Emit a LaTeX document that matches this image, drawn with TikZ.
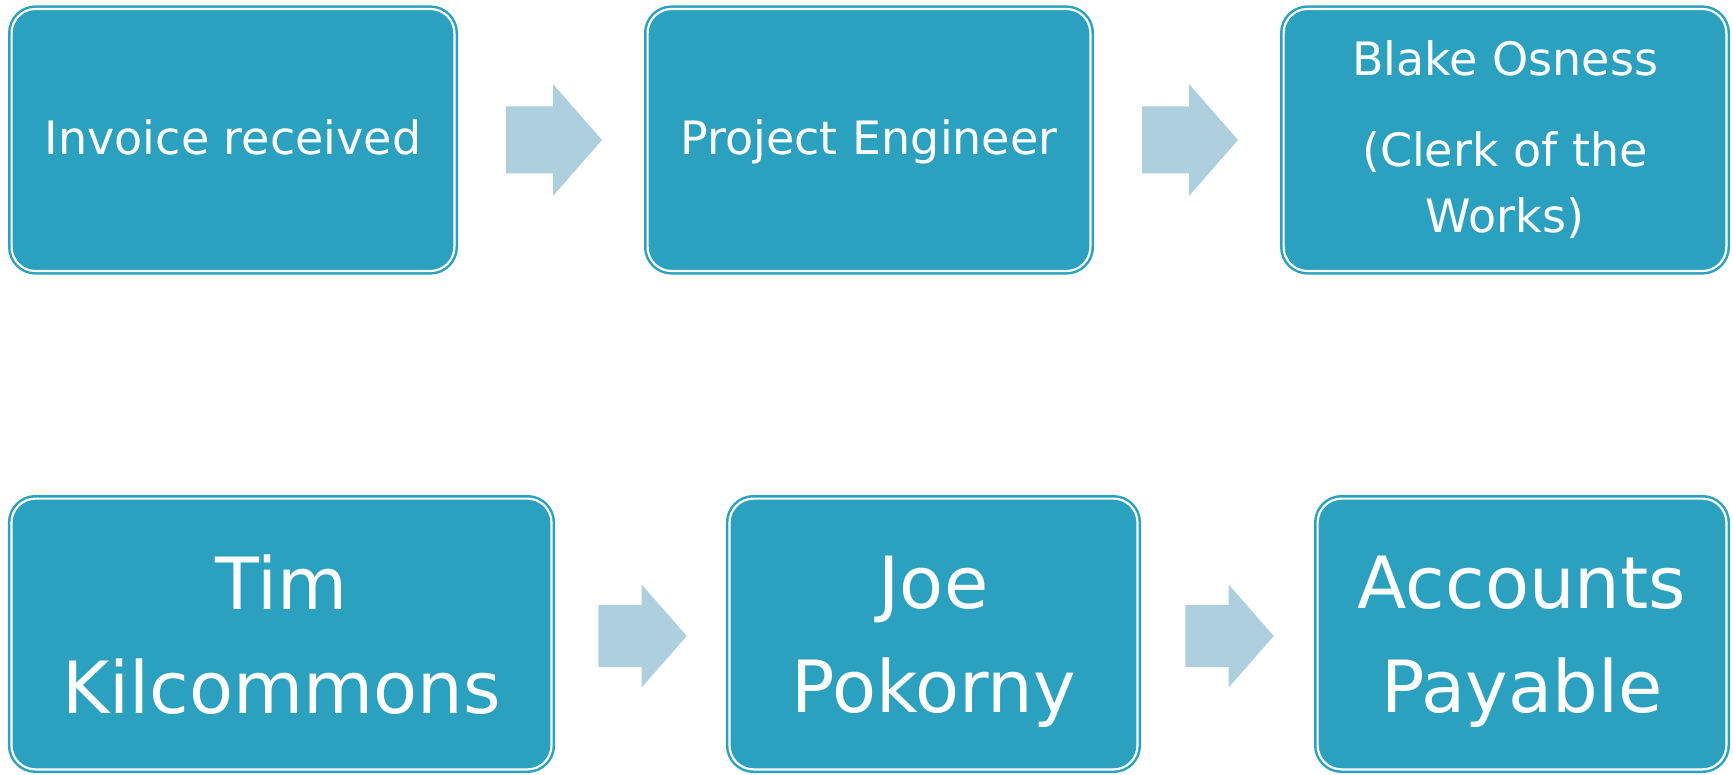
\documentclass[tikz,border=0pt]{standalone}
\usepackage{fontspec}
\setmainfont{DejaVu Sans}
\usetikzlibrary{calc}

\definecolor{boxteal}{RGB}{44,161,191}
\definecolor{arrowblue}{RGB}{174,207,222}

\tikzset{
  stepbox/.style={draw=boxteal, fill=boxteal, line width=1.25pt, double=white,
    double distance=1.1pt, rounded corners=12pt, text=white, align=center,
    inner sep=0pt},
  smalltext/.style={font=\fontsize{23}{33}\selectfont},
  oneline/.style={text height=17pt, text depth=2pt},
  bigtext/.style={font=\fontsize{36}{52}\selectfont, text depth=0pt},
  flowarrow/.pic={
    \fill[arrowblue] (-48,-33.5) -- (-1,-33.5) -- (-1,-56) -- (48,0)
      -- (-1,56) -- (-1,33.5) -- (-48,33.5) -- cycle;
  }
}

\begin{document}
\begin{tikzpicture}[x=0.5pt,y=-0.5pt]
  \useasboundingbox (0,0) rectangle (1733,775);

  % Top row
  \node[stepbox, smalltext, oneline, minimum width=221.4pt, minimum height=131pt] (inv) at (233,140) {Invoice received};
  \node[stepbox, smalltext, oneline, minimum width=221.4pt, minimum height=131pt] (eng) at (869,140) {Project Engineer};
  \node[stepbox, smalltext, minimum width=221.4pt, minimum height=131pt] (clerk) at (1505,140)
    {Blake Osness\\[12.5pt](Clerk of the\\Works)};

  % Bottom row
  \node[stepbox, bigtext, minimum width=270pt, minimum height=135.4pt] (tim) at (281.5,634) {Tim\\Kilcommons};
  \node[stepbox, bigtext, minimum width=204pt, minimum height=135.4pt] (joe) at (933.5,634) {Joe\\Pokorny};
  \node[stepbox, bigtext, minimum width=204.4pt, minimum height=135.4pt] (ap) at (1522,634) {Accounts\\Payable};

  % Block arrows between the steps
  \foreach \a/\b in {inv/eng, eng/clerk}
    \pic[xshift=1.5pt] at ($(\a.east)!0.5!(\b.west)$) {flowarrow};
  \foreach \a/\b in {tim/joe, joe/ap}
    \pic[xshift=1pt, yshift=-1pt, scale=0.92] at ($(\a.east)!0.5!(\b.west)$) {flowarrow};
\end{tikzpicture}
\end{document}
